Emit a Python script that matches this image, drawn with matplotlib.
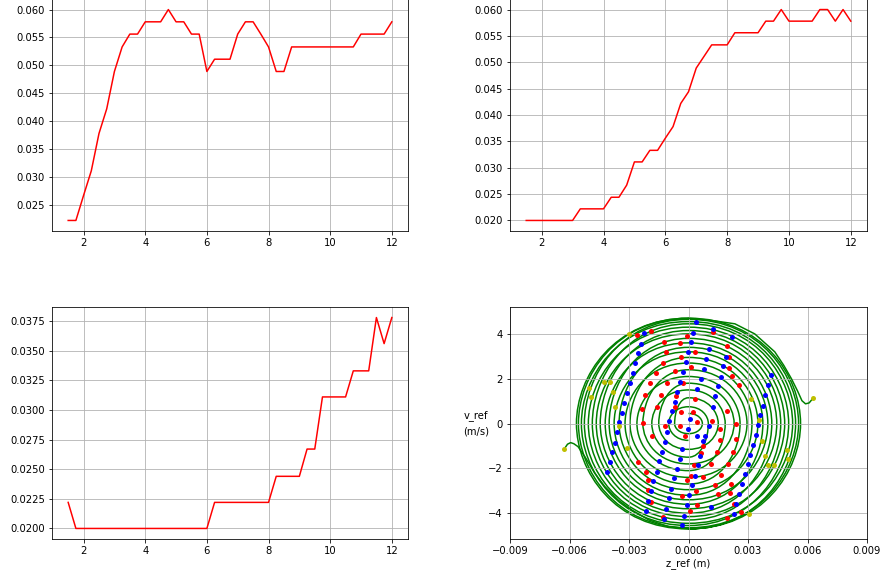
import numpy as np
import matplotlib
matplotlib.use('Agg')
import matplotlib.pyplot as plt
from matplotlib.path import Path
from matplotlib.patches import PathPatch

# ---- step plots (x = 1.5 .. 12 in steps of 0.25) ----
t = np.arange(1.5, 12.01, 0.25)

top_left = [0.0222, 0.0222, 0.0267, 0.0311, 0.0378, 0.0422, 0.0489, 0.0533, 0.0556, 0.0556,
            0.0578, 0.0578, 0.0578, 0.0600, 0.0578, 0.0578, 0.0556, 0.0556, 0.0489, 0.0511,
            0.0511, 0.0511, 0.0556, 0.0578, 0.0578, 0.0556, 0.0533, 0.0489, 0.0489, 0.0533,
            0.0533, 0.0533, 0.0533, 0.0533, 0.0533, 0.0533, 0.0533, 0.0533, 0.0556, 0.0556,
            0.0556, 0.0556, 0.0578]

top_right = [0.0200, 0.0200, 0.0200, 0.0200, 0.0200, 0.0200, 0.0200, 0.0222, 0.0222, 0.0222,
             0.0222, 0.0244, 0.0244, 0.0267, 0.0311, 0.0311, 0.0333, 0.0333, 0.0356, 0.0378,
             0.0422, 0.0444, 0.0489, 0.0511, 0.0533, 0.0533, 0.0533, 0.0556, 0.0556, 0.0556,
             0.0556, 0.0578, 0.0578, 0.0600, 0.0578, 0.0578, 0.0578, 0.0578, 0.0600, 0.0600,
             0.0578, 0.0600, 0.0578]

bottom_left = [0.0222, 0.0200, 0.0200, 0.0200, 0.0200, 0.0200, 0.0200, 0.0200, 0.0200, 0.0200,
               0.0200, 0.0200, 0.0200, 0.0200, 0.0200, 0.0200, 0.0200, 0.0200, 0.0200, 0.0222,
               0.0222, 0.0222, 0.0222, 0.0222, 0.0222, 0.0222, 0.0222, 0.0244, 0.0244, 0.0244,
               0.0244, 0.0267, 0.0267, 0.0311, 0.0311, 0.0311, 0.0311, 0.0333, 0.0333, 0.0333,
               0.0378, 0.0356, 0.0378]

# ---- phase portrait (z in mm, v in m/s) ----
# turn amplitudes of the two interleaved spirals
spiral_a_z = [0.7, 1.5, 2.3, 2.95, 3.5, 4.0, 4.45, 4.85, 5.25, 5.55]
spiral_a_v = [0.45, 1.15, 1.8, 2.4, 2.95, 3.4, 3.8, 4.15, 4.45, 4.65]
spiral_b_z = [1.0, 1.85, 2.6, 3.2, 3.75, 4.2, 4.65, 5.05, 5.4, 5.65]
spiral_b_v = [0.75, 1.5, 2.1, 2.7, 3.2, 3.6, 4.0, 4.3, 4.55, 4.7]
outer_v = 4.7

tail_a_z = [0.0, 1.0, 2.34, 3.34, 4.35, 4.8, 5.19, 5.5, 5.72, 5.9, 6.08, 6.3]
tail_a_v = [4.7, 4.62, 4.45, 4.0, 3.2, 2.6, 2.0, 1.45, 1.02, 0.88, 0.92, 1.15]
tail_b_z = [0.0, -1.0, -2.0, -2.87, -3.55, -4.22, -4.73, -5.23, -5.57, -5.78, -5.94, -6.1, -6.27]
tail_b_v = [-4.7, -4.6, -4.3, -3.85, -3.41, -2.81, -2.21, -1.47, -1.03, -0.9, -0.85, -0.92, -1.14]

red_z = [-2.59, -1.95, -2.20, -2.36, -2.27, 1.26, -1.90, -0.07, -1.25, -0.44, 1.95, 2.05, -1.11,
         0.33, -0.37, -1.31, 2.03, 0.12, -1.63, -0.69, 2.17, -1.09, -0.27, 2.54, -1.40, -0.61,
         0.33, -1.60, -0.69, 1.92, -0.40, 0.23, 0.45, 1.17, -1.85, -2.56, -2.14, -2.02, -2.02,
         -1.90, -1.20, -0.44, 1.58, 2.37, -0.20, 1.61, 0.74, 0.61, 1.43, 2.23, 0.30, 1.11, 1.97,
         0.12, 0.74, 1.64, -0.10, 1.33, 2.13, 0.40, -0.32, 1.49, 2.10, 0.45, 0.10, 2.30, -1.28,
         1.92, 2.64, 2.39]
red_v = [3.93, 1.79, 1.27, 0.64, 0.04, 4.09, 4.15, 3.90, 3.66, 3.60, 3.48, 2.96, 3.19,
         3.19, 2.96, 2.70, 2.46, 2.52, 2.26, 2.34, 2.10, 1.82, 1.83, 1.71, 1.28, 1.24,
         1.09, 0.75, 0.76, 0.54, 0.50, 0.52, 0.09, 0.10, -0.55, -1.72, -2.14, -2.50, -2.96,
         -3.51, -0.10, -0.10, -0.24, -0.03, -0.54, -0.73, -1.00, -1.30, -1.26, -1.26, -1.87, -1.80, -1.80,
         -2.32, -2.39, -2.28, -2.53, -2.72, -2.71, -2.99, -3.21, -3.15, -3.11, -3.62, -3.88, -3.60, -4.17,
         -4.20, -3.94, -0.68]

blue_z = [-2.25, -2.41, -2.54, -2.69, -2.82, -2.96, -3.10, -3.23, -3.35, -3.48,
          -3.60, -3.73, -3.87, -3.98, -4.12, -1.77, -1.89, -2.02, -2.15,
          0.37, 1.26, 0.22, 2.17, 0.12, 1.01, 1.90, -0.02, 0.87, -0.15, 1.76, 0.76, -0.30,
          1.63, 0.61, -0.44, 1.49, 0.45, -0.57, 1.34, -0.69, 1.23, -0.83, -0.98, 0.07,
          -0.05, 1.01, -1.08, 0.42, 0.82, -1.20, 0.74, -1.35, -0.32, 0.57, -1.48, -0.44, 0.49,
          -1.61, -0.57, -0.74, 0.35, -0.88, 0.17, 0.05, -0.99, -1.14, -0.09, 1.14, -1.23, -0.22,
          2.29, -0.34,
          4.14, 4.00, 3.88, 3.75, 3.61, 3.49, 3.38, 3.24, 3.11, 2.98, 2.84, 2.70, 2.55, 2.42]
blue_v = [4.02, 3.57, 3.13, 2.70, 2.25, 1.80, 1.37, 0.92, 0.48, 0.06,
          -0.38, -0.85, -1.28, -1.72, -2.16, -2.56, -3.00, -3.44, -3.90,
          4.53, 4.24, 4.06, 3.87, 3.65, 3.32, 2.98, 3.19, 2.86, 2.75, 2.56, 2.43, 2.29,
          2.08, 1.98, 1.86, 1.68, 1.55, 1.43, 1.22, 0.98, 0.76, 0.55, 0.12, 0.21,
          -0.24, -0.10, -0.37, -0.54, -0.55, -0.82, -0.80, -1.25, -1.13, -1.44, -1.68, -1.58, -1.87,
          -2.14, -2.01, -2.44, -2.32, -2.90, -2.75, -3.20, -3.33, -3.79, -3.64, -3.72, -4.24, -4.12,
          -4.03, -4.54,
          2.16, 1.70, 1.27, 0.80, 0.39, -0.06, -0.50, -0.95, -1.40, -1.81, -2.26, -2.69, -3.14, -3.58]

yellow_z = [-3.01, -5.00, -4.90, -4.27, -3.97, -3.82, -3.73, -3.52, -3.10, -6.27,
            6.29, 3.13, 3.57, 3.73, 3.85, 4.02, 4.29, 4.95, 5.01, 3.04]
yellow_v = [4.01, 1.59, 1.19, 1.87, 1.84, 1.41, 0.73, -0.13, -1.07, -1.14,
            1.16, 1.09, 0.16, -0.76, -1.43, -1.84, -1.87, -1.19, -1.58, -4.02]


def spiral_path(z_amp, v_amp, end_v, start_top, k_flat=0.66, k_side=0.45):
    # quarter extremes, clockwise; joined with cubic beziers
    # flat-ish tops, slightly pointed sides
    pts = []
    s = 1 if start_top else -1
    for a, b in zip(z_amp, v_amp):
        pts += [(0, s * b), (s * a, 0), (0, -s * b), (-s * a, 0)]
    pts.append((0, s * end_v))
    verts = [pts[0]]
    codes = [Path.MOVETO]
    for p0, p3 in zip(pts[:-1], pts[1:]):
        p0 = np.array(p0, float)
        p3 = np.array(p3, float)
        if p0[0] == 0:
            c1, c2 = p0 + k_flat * p3, p3 + k_side * p0
        else:
            c1, c2 = p0 + k_side * p3, p3 + k_flat * p0
        verts += [tuple(c1), tuple(c2), tuple(p3)]
        codes += [Path.CURVE4] * 3
    verts = [(x * 1e-3, y) for x, y in verts]
    return Path(verts, codes)


W, H = 883, 575
fig = plt.figure(figsize=(W / 72, H / 72), dpi=72)

ax1 = fig.add_axes([52 / W, 1 - 231 / H, 356 / W, 232 / H])
ax1.plot(t, top_left, 'r-')
ax1.grid()

ax2 = fig.add_axes([510 / W, 1 - 231 / H, 357 / W, 232 / H])
ax2.plot(t, top_right, 'r-')
ax2.grid()

ax3 = fig.add_axes([52 / W, 1 - 539 / H, 356 / W, 232 / H])
ax3.plot(t, bottom_left, 'r-')
ax3.grid()

ax4 = fig.add_axes([510 / W, 1 - 539 / H, 357 / W, 232 / H])
for zz, vv, top in [(spiral_a_z, spiral_a_v, True), (spiral_b_z, spiral_b_v, False)]:
    ax4.add_patch(PathPatch(spiral_path(zz, vv, outer_v, top), fc='none', ec='g', lw=1.5))
ax4.plot(np.array(tail_a_z) * 1e-3, tail_a_v, 'g-', lw=1.5)
ax4.plot(np.array(tail_b_z) * 1e-3, tail_b_v, 'g-', lw=1.5)
ax4.plot(np.array(red_z) * 1e-3, red_v, 'o', color='r', ms=5, mew=0)
ax4.plot(np.array(blue_z) * 1e-3, blue_v, 'o', color='b', ms=5, mew=0)
ax4.plot(np.array(yellow_z) * 1e-3, yellow_v, 'o', color='y', ms=5, mew=0)
ax4.set_xlim(-0.009, 0.009)
ax4.set_ylim(-5.15, 5.2)
ax4.set_xticks([-0.009, -0.006, -0.003, 0.0, 0.003, 0.006, 0.009])
ax4.set_yticks([-4, -2, 0, 2, 4])
ax4.set_xlabel('z_ref (m)', labelpad=2)
ax4.set_ylabel('v_ref\n(m/s)', rotation=0, ha='center', va='center', linespacing=1.7)
ax4.yaxis.set_label_coords(-0.095, 0.5)
ax4.grid()

fig.savefig('out.png', dpi=72)
